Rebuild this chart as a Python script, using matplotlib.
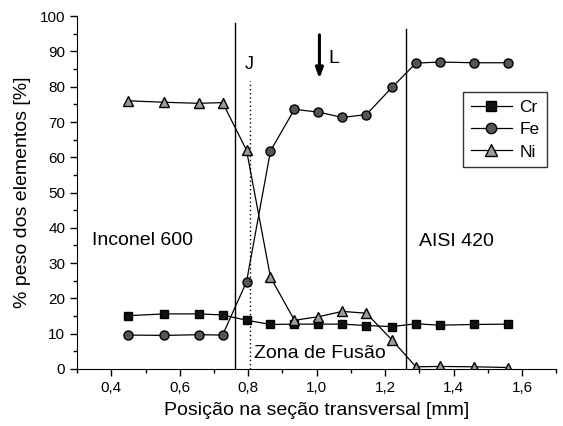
import matplotlib
matplotlib.use("Agg")
from matplotlib import pyplot as plt
from matplotlib.ticker import MultipleLocator, FuncFormatter

plt.rcParams['font.family'] = ['Liberation Sans', 'DejaVu Sans']

# posições de medição [mm]
pos = [0.45, 0.555, 0.655, 0.725, 0.795, 0.865, 0.935, 1.005, 1.075, 1.145,
       1.22, 1.29, 1.36, 1.46, 1.56]
# % peso
cr = [15.1, 15.6, 15.6, 15.3, 13.8, 12.6, 12.7, 12.7, 12.7, 12.3,
      12.0, 12.8, 12.4, 12.6, 12.7]
fe = [9.6, 9.5, 9.7, 9.6, 24.7, 61.8, 73.6, 72.8, 71.3, 72.1,
      79.8, 86.7, 87.0, 86.8, 86.8]
ni = [76.0, 75.6, 75.3, 75.5, 62.0, 26.0, 13.8, 14.8, 16.3, 15.8,
      8.2, 0.6, 0.7, 0.6, 0.4]

# limites da zona de fusão, linha J e seta L
limite_esq = 0.76
limite_dir = 1.26
linha_j = 0.805
seta_l = 1.008

fig = plt.figure(figsize=(5.63, 4.26), dpi=100)
ax = fig.add_axes([0.137, 0.134, 0.851, 0.828])

ax.plot(pos, cr, color="black", lw=0.9, marker="s", ms=6,
        mfc="#111111", mec="black", label="Cr")
ax.plot(pos, fe, color="black", lw=0.9, marker="o", ms=6.5,
        mfc="#555555", mec="black", label="Fe")
ax.plot(pos, ni, color="black", lw=0.9, marker="^", ms=7,
        mfc="#9a9a9a", mec="black", label="Ni")

# linhas verticais
ax.plot([limite_esq, limite_esq], [0, 98], color="black", lw=1.0)
ax.plot([limite_dir, limite_dir], [0, 96.5], color="black", lw=1.0)
ax.plot([linha_j, linha_j], [0, 81.5], color="black", lw=1.0, ls=(0, (1, 2)))
ax.text(linha_j - 0.003, 86.3, "J", ha="center", va="center", fontsize=13)
ax.annotate("", xy=(seta_l, 81.5), xytext=(seta_l, 95.5),
            arrowprops=dict(arrowstyle="-|>,head_width=0.22,head_length=0.6",
                            color="black", lw=2.2))
ax.text(seta_l + 0.025, 88, "L", ha="left", va="center", fontsize=14)

ax.text(0.343, 36.3, "Inconel 600", ha="left", va="center", fontsize=14)
ax.text(1.30, 36.0, "AISI 420", ha="left", va="center", fontsize=14)
ax.text(0.818, 4.5, "Zona de Fusão", ha="left", va="center", fontsize=14)

ax.set_xlim(0.3, 1.7)
ax.set_ylim(0, 100)
ax.xaxis.set_major_locator(MultipleLocator(0.2))
ax.xaxis.set_minor_locator(MultipleLocator(0.1))
ax.yaxis.set_major_locator(MultipleLocator(10))
ax.yaxis.set_minor_locator(MultipleLocator(5))
ax.xaxis.set_major_formatter(FuncFormatter(lambda v, p: ("%.1f" % v).replace(".", ",")))
ax.spines["top"].set_visible(False)
ax.spines["right"].set_visible(False)
ax.tick_params(which="major", length=5, width=1, labelsize=11)
ax.tick_params(which="minor", length=3, width=1)

ax.set_xlabel("Posição na seção transversal [mm]", fontsize=14, labelpad=5)
ax.set_ylabel("% peso dos elementos [%]", fontsize=14, labelpad=6)

leg = ax.legend(loc="upper right", bbox_to_anchor=(0.981, 0.784), fontsize=12.5,
                frameon=True, fancybox=False, edgecolor="black",
                handlelength=2.4, borderpad=0.45, labelspacing=0.4,
                handletextpad=0.4, borderaxespad=0, markerscale=1.15)
leg.get_frame().set_linewidth(1.0)

fig.savefig("out.png", dpi=100)
